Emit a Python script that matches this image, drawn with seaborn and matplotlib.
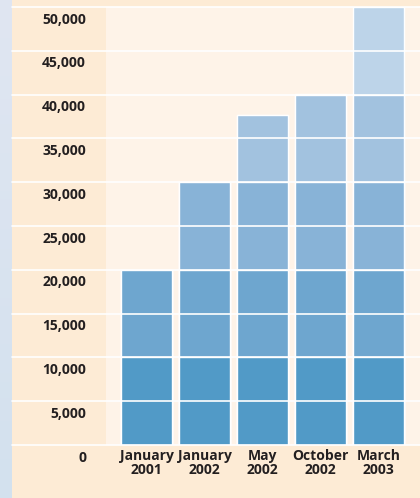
#!/usr/bin/env python3
"""Bar chart of counts by survey date, banded colours every 10,000."""

import matplotlib.pyplot as plt
import numpy as np
import pandas as pd
import seaborn as sns
from matplotlib.colors import LinearSegmentedColormap
from matplotlib.patches import Rectangle

dates = ["January\n2001", "January\n2002", "May\n2002", "October\n2002",
         "March\n2003"]
values = [20000, 30000, 37700, 40100, 50000]
y_ticks = [0, 5000, 10000, 15000, 20000, 25000, 30000, 35000, 40000, 45000,
           50000]
band_tops = [10000, 20000, 30000, 40000, 50000]
band_colors = ["#519ac7", "#6ea6cf", "#88b3d7", "#a2c2df", "#bdd4e9"]

PEACH = "#fdebd5"
LIGHT = "#fef3e8"
TEXT = "#231f20"

sns.set_theme(style="white")
plt.rcParams["font.family"] = ["Open Sans", "DejaVu Sans"]

fig = plt.figure(figsize=(4.2, 4.98), dpi=100, facecolor=PEACH)

# Blue strip down the left edge, slight vertical gradient
strip = fig.add_axes([0, 0, 12 / 420, 1])
cmap = LinearSegmentedColormap.from_list("strip", ["#d3e1ee", "#e0e6f2"])
grad = np.linspace(0, 1, 256).reshape(-1, 1)
strip.imshow(grad, cmap=cmap, aspect="auto", origin="lower",
             extent=(0, 1, 0, 1), interpolation="bilinear")
strip.set_axis_off()

ax = fig.add_axes([12 / 420, 53 / 498, 408 / 420, 438 / 498],
                  facecolor=PEACH)
x_left, x_plot, x_right = -2.319, -0.698, 4.716
ax.add_patch(Rectangle((x_plot, 0), x_right - x_plot, 50000,
                       facecolor=LIGHT, edgecolor="none", zorder=0))

# Draw banded bars: highest band first, lower bands painted over it
df = pd.DataFrame({"date": dates, "value": values})
for top, color in reversed(list(zip(band_tops, band_colors))):
    df["h"] = df["value"].clip(upper=top)
    sns.barplot(data=df, x="date", y="h", color=color, width=51 / 58,
                saturation=1, ax=ax, zorder=2)

for v in y_ticks:
    ax.axhline(v, color="white", lw=1.2, zorder=3, clip_on=False)
    ax.annotate(f"{v:,}", (-1.043, v), xytext=(0, -9), textcoords="offset points",
                ha="right", va="center", fontsize=10, fontweight="bold",
                color=TEXT, annotation_clip=False)

ax.set_xlim(x_left, x_right)
ax.set_ylim(0, 50000)
ax.set(xlabel="", ylabel="", yticks=[])
ax.tick_params(axis="x", length=0, pad=3, labelsize=10, colors=TEXT)
for lab in ax.get_xticklabels():
    lab.set_fontweight("bold")
    lab.set_linespacing(1.0)
sns.despine(ax=ax, left=True, bottom=True)

plt.savefig("out.png", dpi=100, facecolor=PEACH)
